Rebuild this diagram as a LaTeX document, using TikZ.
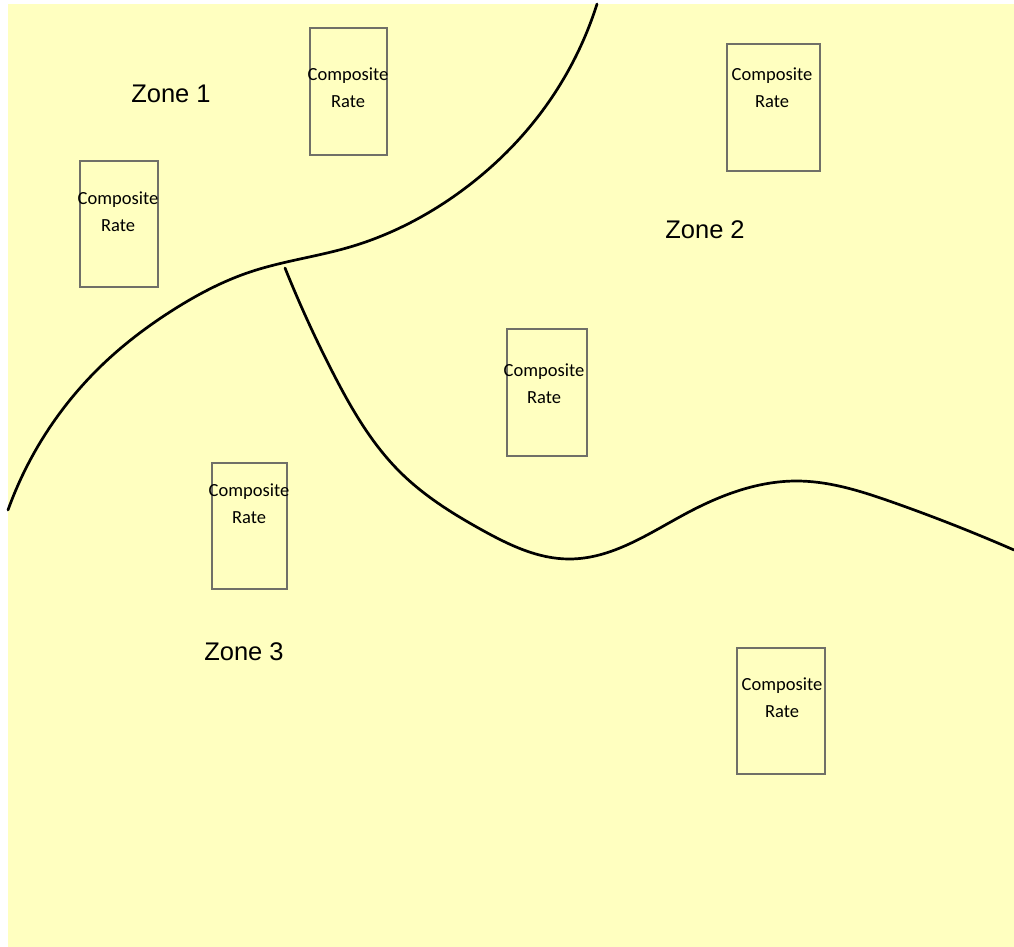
\documentclass[tikz,border=0pt]{standalone}
\usepackage{fontspec}
\usetikzlibrary{hobby}
\setmainfont{Carlito}
\newfontfamily\zonefont{Liberation Sans}
\definecolor{bgyellow}{RGB}{255,255,192}
\definecolor{boxgray}{RGB}{112,112,104}
\begin{document}
\begin{tikzpicture}[x=1pt,y=-1pt,
  ratebox/.style={draw=boxgray,line width=2.5pt,minimum width=#1,inner sep=0pt},
  ratetext/.style={align=center,font=\fontsize{18.5}{27}\selectfont,inner sep=0pt},
  zonetext/.style={font=\zonefont\fontsize{25.5}{30}\selectfont,inner sep=0pt},
  border/.style={line width=2.7pt,black,line cap=round}]
\useasboundingbox (0,0) rectangle (1014,947);
\fill[bgyellow] (8,4) rectangle (1014,947);
% boxes
\node[ratebox=77pt,minimum height=127pt] (b1) at (348.5,91.5) {};
\node[ratebox=78pt,minimum height=126pt] (b2) at (119,224) {};
\node[ratebox=93pt,minimum height=127pt] (b3) at (773.5,107.5) {};
\node[ratebox=80pt,minimum height=127pt] (b4) at (547,392.5) {};
\node[ratebox=75pt,minimum height=126pt] (b5) at (249.5,526) {};
\node[ratebox=88pt,minimum height=126pt] (b6) at (781,711) {};
% texts
\node[ratetext] (t1) at (348,88) {Composite\\Rate};
\node[ratetext] (t2) at (118,212) {Composite\\Rate};
\node[ratetext] (t3) at (772,88) {Composite\\Rate};
\node[ratetext] (t4) at (544,384) {Composite\\Rate};
\node[ratetext] (t5) at (249,504) {Composite\\Rate};
\node[ratetext] (t6) at (782,698) {Composite\\Rate};
% zones
\node[zonetext] (z1) at (171,94) {Zone 1};
\node[zonetext] (z2) at (705,230) {Zone 2};
\node[zonetext] (z3) at (244,652) {Zone 3};
% borders
\draw[border,use Hobby shortcut] (597,4) .. (543,110) .. (460,192) .. (350,247) .. (250,272) .. (173,310) .. (100,367) .. (8,510);
\draw[border,use Hobby shortcut] (285,268) .. (333,373) .. (400,472) .. (482,530) .. (569,559) .. (687,513) .. (796,481) .. (892,502) .. (1014,550);
\end{tikzpicture}
\end{document}
